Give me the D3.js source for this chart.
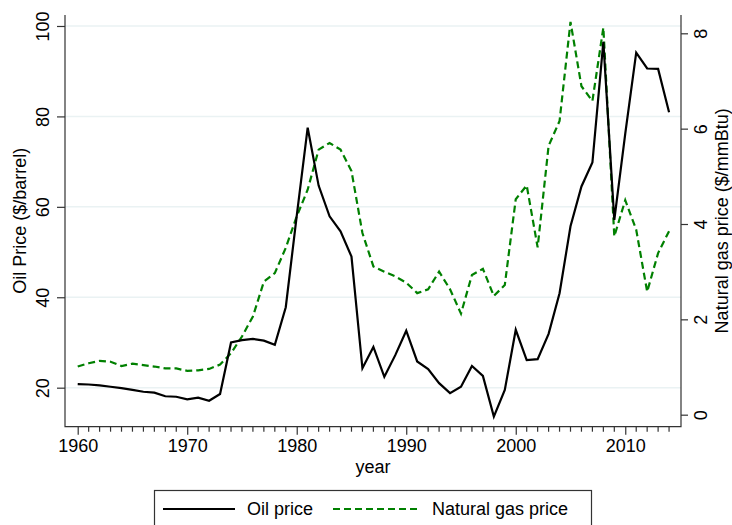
<!DOCTYPE html>
<html>
<head>
<meta charset="utf-8">
<script src="https://cdn.jsdelivr.net/npm/d3@7"></script>
<style>
  body { margin: 0; background: white; }
  text { font-family: "Liberation Sans", Arial, sans-serif; fill: black; }
</style>
</head>
<body>
<svg id="svg"></svg>
<script>
////////////////////////////////////////////////////////////////////////
// Data

let years = [];
for (let y = 1960; y <= 2014; ++y) { years.push(y); }

let oilPrice = [
  20.8, 20.7, 20.5, 20.2, 19.9, 19.5, 19.1, 18.9, 18.1, 18.0,
  17.4, 17.8, 17.1, 18.6, 30.0, 30.5, 30.8, 30.4, 29.5, 37.8,
  58.0, 77.5, 64.7, 57.9, 54.6, 49.0, 24.3, 29.0, 22.4, 27.2,
  32.6, 25.8, 24.1, 21.0, 18.8, 20.2, 24.8, 22.6, 13.6, 19.5,
  32.8, 26.1, 26.3, 31.9, 40.9, 55.7, 64.5, 69.8, 96.5, 57.1,
  76.2, 94.1, 90.6, 90.5, 80.9
];

let gasPrice = [
  1.01, 1.08, 1.13, 1.11, 1.02, 1.07, 1.04, 1.01, 0.97, 0.97,
  0.92, 0.93, 0.96, 1.05, 1.29, 1.64, 2.06, 2.79, 2.97, 3.50,
  4.16, 4.72, 5.56, 5.70, 5.56, 5.11, 3.81, 3.11, 3.00, 2.90,
  2.77, 2.55, 2.63, 3.00, 2.63, 2.12, 2.93, 3.06, 2.49, 2.72,
  4.52, 4.81, 3.51, 5.64, 6.16, 8.24, 6.89, 6.58, 8.12, 3.74,
  4.50, 3.88, 2.58, 3.39, 3.85
];

let yearTicks = [1960, 1970, 1980, 1990, 2000, 2010];
let oilTicks = [20, 40, 60, 80, 100];
let gasTicks = [0, 2, 4, 6, 8];

let seriesNames = ["Oil price", "Natural gas price"];
let seriesColors = ["black", "#008000"];


////////////////////////////////////////////////////////////////////////
// Layout and scales

let width = 732, height = 525;
let plot = { x1: 65, x2: 681, y1: 15, y2: 426.7 };

let xScale = d3.scaleLinear().domain([1958.84, 2015.09]).range([plot.x1, plot.x2]);
let oilScale = d3.scaleLinear().domain([11.37, 102.43]).range([plot.y2, plot.y1]);
let gasScale = d3.scaleLinear().domain([-0.252, 8.384]).range([plot.y2, plot.y1]);

let svg = d3.select("#svg").attr("width", width).attr("height", height);

// grid lines at oil ticks
svg.append("g").selectAll("line")
   .data(oilTicks).enter().append("line")
   .attr("x1", plot.x1).attr("x2", plot.x2)
   .attr("y1", d => oilScale(d)).attr("y2", d => oilScale(d))
   .attr("stroke", "#eaf2f3").attr("stroke-width", 1.5);


////////////////////////////////////////////////////////////////////////
// Axes

let axisColor = "#333";

// bottom axis: long ticks at decades, short ticks every year
let xAxis = svg.append("g")
   .attr("transform", "translate(0," + plot.y2 + ")")
   .call(d3.axisBottom(xScale).tickValues(yearTicks).tickFormat(d3.format("d"))
           .tickSize(8).tickPadding(5));
xAxis.append("g").selectAll("line")
   .data(years.filter(y => yearTicks.indexOf(y) < 0)).enter().append("line")
   .attr("x1", d => xScale(d)).attr("x2", d => xScale(d))
   .attr("y1", 0).attr("y2", 5);

let yLeft = svg.append("g")
   .attr("transform", "translate(" + plot.x1 + ",0)")
   .call(d3.axisLeft(oilScale).tickValues(oilTicks).tickSize(8).tickPadding(0));

let yRight = svg.append("g")
   .attr("transform", "translate(" + plot.x2 + ",0)")
   .call(d3.axisRight(gasScale).tickValues(gasTicks).tickSize(7).tickPadding(0));

[xAxis, yLeft, yRight].forEach(function(ax) {
  ax.select(".domain").remove();
  ax.selectAll("line").attr("stroke", axisColor).attr("stroke-width", 1.2);
  ax.selectAll("text").attr("font-size", 18).attr("fill", "black")
    .style("font-family", "'Liberation Sans', Arial, sans-serif");
});

// rotate the vertical tick labels (read bottom to top)
yLeft.selectAll(".tick text")
   .attr("x", null).attr("dy", null).attr("text-anchor", "middle")
   .attr("transform", "translate(-16,0) rotate(-90)");
yRight.selectAll(".tick text")
   .attr("x", null).attr("dy", null).attr("text-anchor", "middle")
   .attr("transform", "translate(26,0) rotate(-90)");

// axis lines (left, bottom, right)
svg.append("path")
   .attr("d", "M" + plot.x1 + "," + plot.y1 + "V" + plot.y2 + "H" + plot.x2 + "V" + plot.y1)
   .attr("fill", "none").attr("stroke", axisColor).attr("stroke-width", 1.2);

// axis titles
svg.append("text")
   .attr("transform", "translate(26," + ((plot.y1 + plot.y2) / 2) + ") rotate(-90)")
   .attr("text-anchor", "middle").attr("font-size", 18)
   .text("Oil Price ($/barrel)");
svg.append("text")
   .attr("transform", "translate(728," + ((plot.y1 + plot.y2) / 2) + ") rotate(-90)")
   .attr("text-anchor", "middle").attr("font-size", 18)
   .text("Natural gas price ($/mmBtu)");
svg.append("text")
   .attr("x", (plot.x1 + plot.x2) / 2).attr("y", 473)
   .attr("text-anchor", "middle").attr("font-size", 18)
   .text("year");


////////////////////////////////////////////////////////////////////////
// Lines

let oilLine = d3.line().x((d, i) => xScale(years[i])).y(d => oilScale(d));
let gasLine = d3.line().x((d, i) => xScale(years[i])).y(d => gasScale(d));

svg.append("path").datum(gasPrice)
   .attr("d", gasLine).attr("fill", "none")
   .attr("stroke", seriesColors[1]).attr("stroke-width", 2.2)
   .attr("stroke-dasharray", "7,4");

svg.append("path").datum(oilPrice)
   .attr("d", oilLine).attr("fill", "none")
   .attr("stroke", seriesColors[0]).attr("stroke-width", 2.2)
   .attr("stroke-linejoin", "miter");


////////////////////////////////////////////////////////////////////////
// Legend

let legend = svg.append("g");
legend.append("rect")
   .attr("x", 154.5).attr("y", 490.5).attr("width", 437).attr("height", 45)
   .attr("fill", "white").attr("stroke", axisColor).attr("stroke-width", 1.2);

let legendItems = [
  { x1: 163, x2: 235, tx: 247, dash: null },
  { x1: 333, x2: 418, tx: 432, dash: "7,4" }
];
legendItems.forEach(function(item, i) {
  legend.append("line")
     .attr("x1", item.x1).attr("x2", item.x2).attr("y1", 509).attr("y2", 509)
     .attr("stroke", seriesColors[i]).attr("stroke-width", 2.2)
     .attr("stroke-dasharray", item.dash);
  legend.append("text")
     .attr("x", item.tx).attr("y", 515).attr("font-size", 18)
     .text(seriesNames[i]);
});
</script>
</body>
</html>
